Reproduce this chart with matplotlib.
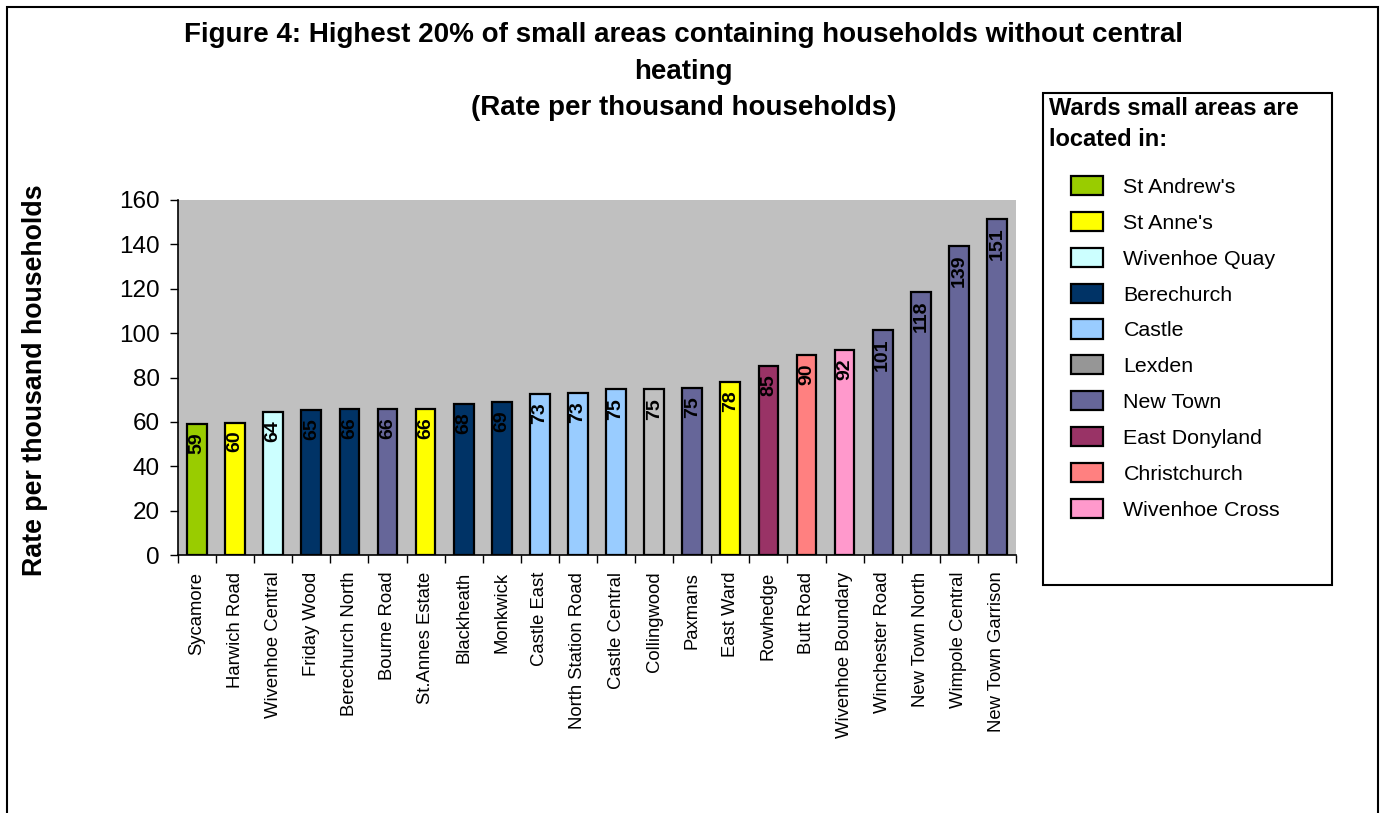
import matplotlib
matplotlib.use('Agg')
from matplotlib import pyplot as plt
from matplotlib.patches import Patch, Rectangle
import numpy as np

plt.rcParams['font.family'] = ['Liberation Sans', 'DejaVu Sans']

# small areas, their ward and the rate per thousand households
areas = ['Sycamore', 'Harwich Road', 'Wivenhoe Central', 'Friday Wood', 'Berechurch North',
         'Bourne Road', 'St.Annes Estate', 'Blackheath', 'Monkwick', 'Castle East',
         'North Station Road', 'Castle Central', 'Collingwood', 'Paxmans', 'East Ward',
         'Rowhedge', 'Butt Road', 'Wivenhoe Boundary', 'Winchester Road', 'New Town North',
         'Wimpole Central', 'New Town Garrison']
wards = ["St Andrew's", "St Anne's", 'Wivenhoe Quay', 'Berechurch', 'Berechurch',
         'New Town', "St Anne's", 'Berechurch', 'Berechurch', 'Castle',
         'Castle', 'Castle', 'Lexden', 'New Town', "St Anne's",
         'East Donyland', 'Christchurch', 'Wivenhoe Cross', 'New Town', 'New Town',
         'New Town', 'New Town']
rates = [59.2, 59.7, 64.3, 65.2, 66.0, 66.0, 66.0, 68.0, 69.0, 72.7, 73.2,
         74.6, 74.6, 75.1, 77.9, 85.0, 90.1, 92.3, 101.4, 118.4, 139.4, 151.3]

legend_wards = ["St Andrew's", "St Anne's", 'Wivenhoe Quay', 'Berechurch', 'Castle',
                'Lexden', 'New Town', 'East Donyland', 'Christchurch', 'Wivenhoe Cross']
legend_colors = ['#99CC00', '#FFFF00', '#CCFFFF', '#003366', '#99CCFF',
                 '#969696', '#666699', '#993366', '#FF8080', '#FF99CC']

title_lines = ['Figure 4: Highest 20% of small areas containing households without central',
               'heating',
               '(Rate per thousand households)']

ward_color = dict(zip(legend_wards, legend_colors))
ward_color['Lexden'] = '#C0C0C0'  # the Collingwood bar is drawn in the plot-area grey
bar_colors = [ward_color[w] for w in wards]

fig = plt.figure(figsize=(13.86, 8.13), dpi=100)
ax = fig.add_axes([178 / 1386, 1 - 555 / 813, (1016 - 178) / 1386, (555 - 200) / 813])
ax.set_facecolor('#C0C0C0')

x = np.arange(len(areas))
bars = ax.bar(x, rates, width=0.52, color=bar_colors, edgecolor='black', linewidth=1.6, zorder=2)

for xi, r in zip(x, rates):
    ax.annotate(f'{round(r)}', (xi, r), xytext=(0, -6), textcoords='offset points',
                rotation=90, ha='center', va='top', fontsize=14, fontweight='bold')

ax.set_xlim(-0.5, len(areas) - 0.5)
ax.set_ylim(0, 160)
ax.set_yticks(np.arange(0, 161, 20))
ax.tick_params(axis='y', labelsize=17.5, length=6, width=1, pad=7, direction='out')

ax.set_xticks(x)
ax.set_xticklabels(areas, rotation=90, fontsize=13.3)
ax.tick_params(axis='x', length=0, pad=12)
ax.set_xticks(np.arange(-0.5, len(areas) + 0.5, 1), minor=True)
ax.tick_params(axis='x', which='minor', length=6, width=1, direction='out')

for side in ['top', 'right']:
    ax.spines[side].set_visible(False)
for side in ['left', 'bottom']:
    ax.spines[side].set_linewidth(1.2)

# title, one text per line
for line, ypix in zip(title_lines, [35, 72, 108]):
    fig.text(0.493, 1 - ypix / 813, line, ha='center', va='center',
             fontsize=20, fontweight='bold')

fig.text(35 / 1386, 1 - 380 / 813, 'Rate per thousand households', rotation=90,
         ha='center', va='center', fontsize=19.3, fontweight='bold')

# outer frame and legend box
fig.patches.append(Rectangle((7 / 1386, -0.05), (1378 - 7) / 1386, 1.05 - 7 / 813,
                             transform=fig.transFigure, fill=False, edgecolor='black', linewidth=1.5))
fig.patches.append(Rectangle((1043 / 1386, 1 - 585 / 813), (1332 - 1043) / 1386, (585 - 93) / 813,
                             transform=fig.transFigure, fill=False, edgecolor='black', linewidth=1.5))

fig.text(1049 / 1386, 1 - 124 / 813, 'Wards small areas are\nlocated in:',
         ha='left', va='center', fontsize=17, fontweight='bold', linespacing=1.4)

handles = [Patch(facecolor=c, edgecolor='black', linewidth=1.6) for c in legend_colors]
fig.legend(handles, legend_wards, loc='upper left',
           bbox_to_anchor=(1071 / 1386, 1 - 176 / 813), frameon=False,
           fontsize=15.4, handlelength=1.5, handleheight=1.0, handletextpad=0.95,
           labelspacing=0.7, borderpad=0, borderaxespad=0)

fig.savefig('out.png', dpi=100)
